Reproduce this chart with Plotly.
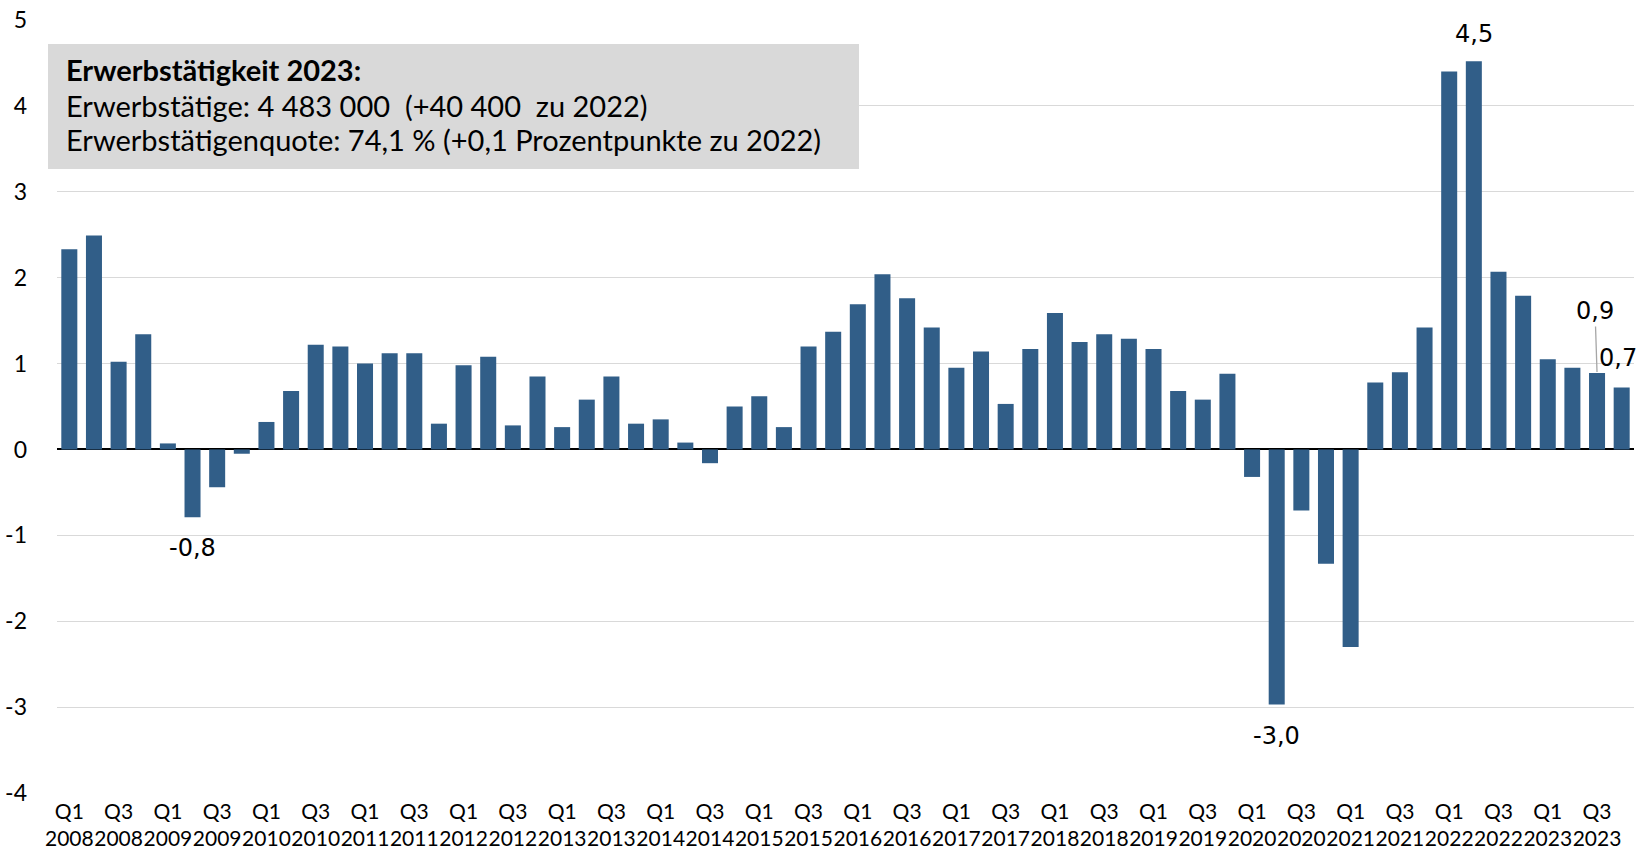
import plotly.graph_objects as go

years = list(range(2008, 2024))
quarters = ["Q1", "Q2", "Q3", "Q4"]
categories = [f"{q} {y}" for y in years for q in quarters]

values = [
    2.33, 2.49, 1.02, 1.34,
    0.07, -0.79, -0.44, -0.05,
    0.32, 0.68, 1.22, 1.20,
    1.00, 1.12, 1.12, 0.30,
    0.98, 1.08, 0.28, 0.85,
    0.26, 0.58, 0.85, 0.30,
    0.35, 0.08, -0.16, 0.50,
    0.62, 0.26, 1.20, 1.37,
    1.69, 2.04, 1.76, 1.42,
    0.95, 1.14, 0.53, 1.17,
    1.59, 1.25, 1.34, 1.29,
    1.17, 0.68, 0.58, 0.88,
    -0.32, -2.97, -0.71, -1.33,
    -2.30, 0.78, 0.90, 1.42,
    4.40, 4.52, 2.07, 1.79,
    1.05, 0.95, 0.89, 0.72,
]

tick_vals = [c for c in categories if c.startswith("Q1") or c.startswith("Q3")]
tick_text = [c.replace(" ", "<br>") for c in tick_vals]

y_tick_vals = [-4, -3, -2, -1, 0, 1, 2, 3, 4, 5]
y_tick_text = ["-4", "-3", "-2", "-1", "0", "1", "2", "3", "4", "5"]

info_title = "Erwerbstätigkeit 2023:"
info_lines = [
    "Erwerbstätige: 4 483 000  (+40 400  zu 2022)",
    "Erwerbstätigenquote: 74,1 % (+0,1 Prozentpunkte zu 2022)",
]

# labelled bars: (category, pixel y-shift, pixel x-shift, x-anchor)
labelled = {
    "Q2 2009": (-31, 0, "center"),
    "Q2 2020": (-31, 0, "center"),
    "Q2 2022": (27, 0, "center"),
    "Q4 2023": (30, 17, "right"),
}

BAR = "#315E88"
TXT_FONT = "Lato, Carlito, Calibri, sans-serif"
LBL_FONT = "DejaVu Sans, Verdana, sans-serif"

fig = go.Figure()
fig.add_trace(go.Bar(
    x=categories, y=values, width=0.65,
    marker=dict(color=BAR, line=dict(width=0)),
    hoverinfo="x+y",
))

def fmt(v):
    return f"{v:.1f}".replace(".", ",")

annotations = []
for cat, (ys, xs, xa) in labelled.items():
    v = values[categories.index(cat)]
    annotations.append(dict(
        x=cat, y=v, xref="x", yref="y", text=fmt(v), showarrow=False,
        yshift=ys, xshift=xs, xanchor=xa,
        font=dict(family=LBL_FONT, size=24, color="#000000"),
    ))
# 0,9 with leader line
v = values[categories.index("Q3 2023")]
annotations.append(dict(
    x="Q3 2023", y=v, xref="x", yref="y", text=fmt(v), showarrow=True,
    arrowhead=0, arrowwidth=1.3, arrowcolor="#A6A6A6", ax=-2, ay=-62,
    standoff=1, font=dict(family=LBL_FONT, size=24, color="#000000"),
))

L, R, T, B = 57, 6, 20, 74
PW = 1640 - L - R
PH = 867 - T - B

def px(p):
    return (p - L) / PW

def py(p):
    return (867 - B - p) / PH

annotations.append(dict(
    x=px(64), y=py(70), xref="paper", yref="paper", xanchor="left",
    yanchor="middle", showarrow=False, text=f"<b>{info_title}</b>",
    font=dict(family=TXT_FONT, size=29, color="#000000"),
))
for i, line in enumerate(info_lines):
    annotations.append(dict(
        x=px(64), y=py(105 + 34 * i), xref="paper", yref="paper",
        xanchor="left", yanchor="middle", showarrow=False,
        text=line.replace("  ", "&nbsp; "),
        font=dict(family=TXT_FONT, size=29, color="#000000"),
    ))

fig.update_layout(
    width=1640, height=867,
    margin=dict(l=L, r=R, t=T, b=B, autoexpand=False),
    paper_bgcolor="white", plot_bgcolor="white",
    showlegend=False,
    bargap=0.35,
    annotations=annotations,
    shapes=[dict(
        type="rect", xref="paper", yref="paper",
        x0=px(48), x1=px(859), y0=py(169), y1=py(44),
        fillcolor="#D9D9D9", line=dict(width=0), layer="above",
    )],
)
fig.update_xaxes(
    type="category", range=[-0.5, 63.5], automargin=False,
    tickmode="array", tickvals=tick_vals, ticktext=tick_text, tickangle=0,
    tickfont=dict(family=TXT_FONT, size=21, color="#000000"),
    showgrid=False, showline=False, ticks="", ticklabelstandoff=4,
)
fig.update_yaxes(
    range=[-4, 5], automargin=False,
    tickmode="array", tickvals=y_tick_vals, ticktext=y_tick_text,
    showgrid=True, gridcolor="#D9D9D9", gridwidth=1.3,
    zeroline=True, zerolinecolor="#000000", zerolinewidth=1.6,
    tickfont=dict(family=TXT_FONT, size=23, color="#000000"),
    ticks="", ticklabelstandoff=29, showline=False,
)

fig.write_html(
    "out.html",
    config={"displayModeBar": False},
    post_script="document.body.style.margin='0';document.body.style.overflow='hidden';",
)
